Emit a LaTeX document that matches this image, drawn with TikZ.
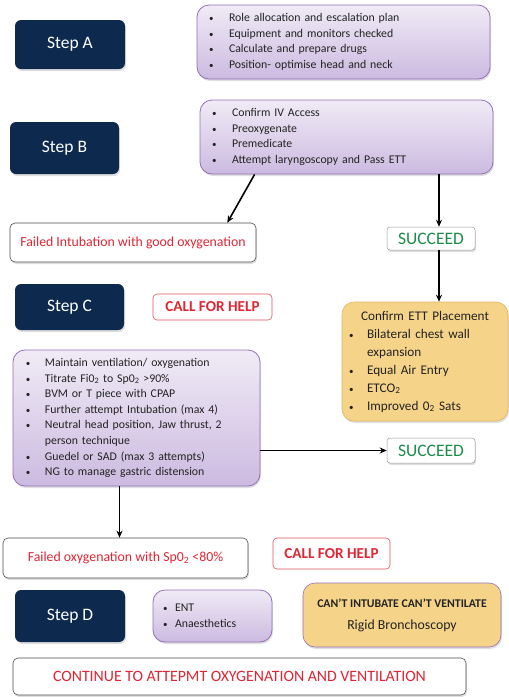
\documentclass[tikz,border=0pt]{standalone}
\usepackage{fontspec}
\setmainfont{Carlito}
\usetikzlibrary{arrows.meta, positioning, shadows}
\definecolor{stepnavy}{RGB}{13,42,78}
\definecolor{lilactop}{RGB}{240,235,246}
\definecolor{lilacbot}{RGB}{204,186,224}
\definecolor{lilacedge}{RGB}{146,112,184}
\definecolor{checkorange}{RGB}{245,211,137}
\definecolor{orangeedge}{RGB}{226,182,98}
\definecolor{alertred}{RGB}{222,38,52}
\definecolor{okgreen}{RGB}{28,140,72}
\definecolor{bodytext}{RGB}{35,35,35}

% bullet column of a list line
\newcommand{\bl}[1][20pt]{\makebox[#1][l]{\small\textbullet}\ignorespaces}

\tikzset{
  softshadow/.style={drop shadow={opacity=0.25, shadow xshift=1pt, shadow yshift=-2pt}},
  stepbox/.style={rounded corners=6pt, fill=stepnavy, text=white, softshadow,
    font=\fontsize{17.5}{20}\selectfont, minimum width=110pt, minimum height=50pt},
  listbox/.style={rounded corners=12pt, draw=lilacedge, line width=0.8pt,
    top color=lilactop, bottom color=lilacbot, softshadow, text=bodytext,
    align=left, font=\fontsize{11.8}{15.6}\selectfont, inner ysep=0pt},
  notebox/.style={rounded corners=12pt, fill=checkorange, draw=orangeedge, line width=0.6pt,
    softshadow, text=bodytext, inner ysep=0pt},
  failbox/.style={rounded corners=5pt, draw=black!70, line width=0.6pt, fill=white,
    softshadow, text=alertred, font=\fontsize{13.8}{16}\selectfont},
  helpbox/.style={rounded corners=4pt, draw=alertred!80, line width=0.6pt, fill=white,
    text=alertred, font=\fontsize{15.2}{17}\selectfont\bfseries},
  okbox/.style={rounded corners=3pt, draw=black!40, line width=0.5pt, fill=white,
    softshadow, text=okgreen, font=\fontsize{17.5}{19}\selectfont},
  flow/.style={line width=1.6pt, -{Stealth[length=7pt,width=6pt]}}
}

\begin{document}
\begin{tikzpicture}[x=1pt, y=-1pt]
  \useasboundingbox (0,0) rectangle (509,697);

  % Step A
  \node[stepbox, minimum width=110pt, minimum height=49pt] (stepA) at (70,44.5) {Step A};
  \node[listbox, minimum width=293pt, minimum height=74pt, text width=269pt, inner xsep=12pt] (prep) at (343.5,42) {%
    \bl Role allocation and escalation plan\\
    \bl Equipment and monitors checked\\
    \bl Calculate and prepare drugs\\
    \bl Position- optimise head and neck};

  % Step B
  \node[stepbox, minimum width=109pt, minimum height=52pt] (stepB) at (64.5,148) {Step B};
  \node[listbox, minimum width=293pt, minimum height=74pt, text width=269pt, inner xsep=12pt] (attempt) at (346.5,137) {%
    \bl Confirm IV Access\\
    \bl Preoxygenate\\
    \bl Premedicate\\
    \bl Attempt laryngoscopy and Pass ETT};

  \node[failbox, minimum width=246pt, minimum height=39pt] (failIntub) at (133,242.5) {Failed Intubation with good oxygenation};
  \node[okbox, minimum width=88pt, minimum height=23pt] (okTop) at (431,238.5) {SUCCEED};

  % Step C
  \node[stepbox, minimum width=109pt, minimum height=46pt] (stepC) at (69.5,307) {Step C};
  \node[helpbox, minimum width=119pt, minimum height=26pt] (helpC) at (212.5,307) {CALL FOR HELP};

  \node[notebox, minimum width=166pt, minimum height=119pt, text width=152pt, inner xsep=7pt,
        align=left, font=\fontsize{13.2}{18}\selectfont] (confirm) at (425,361.5) {%
    \makebox[152pt]{Confirm ETT Placement}\\
    \bl[18pt] Bilateral chest wall\\
    \hspace*{18pt}expansion\\
    \bl[18pt] Equal Air Entry\\
    \bl[18pt] ETCO\textsubscript{2}\\
    \bl[18pt] Improved 0\textsubscript{2} Sats};

  \node[listbox, minimum width=247pt, minimum height=136pt, text width=221pt, inner xsep=13pt] (rescue) at (136.5,418) {%
    \bl[19pt] Maintain ventilation/ oxygenation\\
    \bl[19pt] Titrate Fi0\textsubscript{2} to Sp0\textsubscript{2} >90\%\\
    \bl[19pt] BVM or T piece with CPAP\\
    \bl[19pt] Further attempt Intubation (max 4)\\
    \bl[19pt] Neutral head position, Jaw thrust, 2\\
    \hspace*{19pt}person technique\\
    \bl[19pt] Guedel or SAD (max 3 attempts)\\
    \bl[19pt] NG to manage gastric distension};
  \node[okbox, minimum width=88pt, minimum height=25pt] (okMid) at (431,450.5) {SUCCEED};

  \node[failbox, minimum width=245pt, minimum height=40pt] (failOxy) at (125.5,558) {Failed oxygenation with Sp0\textsubscript{2} <80\%};
  \node[helpbox, minimum width=117pt, minimum height=31pt] (helpD) at (331.5,553.5) {CALL FOR HELP};

  % Step D
  \node[stepbox, minimum width=110pt, minimum height=52pt] (stepD) at (70,616) {Step D};
  \node[listbox, minimum width=119pt, minimum height=52pt, text width=99pt, inner xsep=10pt] (teams) at (212.5,616) {%
    \bl[12pt] ENT\\
    \bl[12pt] Anaesthetics};
  \node[notebox, draw=lilacedge, minimum width=198pt, minimum height=64pt, align=center] (cicv) at (402,615) {%
    {\fontsize{11.8}{14}\selectfont\bfseries CAN’T INTUBATE CAN’T VENTILATE}\\[10pt]
    {\fontsize{13.8}{16}\selectfont Rigid Bronchoscopy}};

  \node[failbox, minimum width=453pt, minimum height=37pt, font=\fontsize{15.8}{18}\selectfont] (carryOn) at (239.5,676.5) {CONTINUE TO ATTEPMT OXYGENATION AND VENTILATION};

  % connectors
  \draw[flow] ([xshift=55pt]attempt.south west) -- ([xshift=-29pt]failIntub.north east);
  \draw[flow] ([xshift=8pt]okTop.north |- attempt.south) -- ([xshift=8pt]okTop.north);
  \draw[flow] ([xshift=8pt]okTop.south) -- ([xshift=8pt]okTop.south |- confirm.north);
  \draw[flow] (okMid.west -| rescue.east) -- (okMid.west);
  \draw[flow] ([xshift=-6pt]failOxy.north |- rescue.south) -- ([xshift=-6pt]failOxy.north);
\end{tikzpicture}
\end{document}
